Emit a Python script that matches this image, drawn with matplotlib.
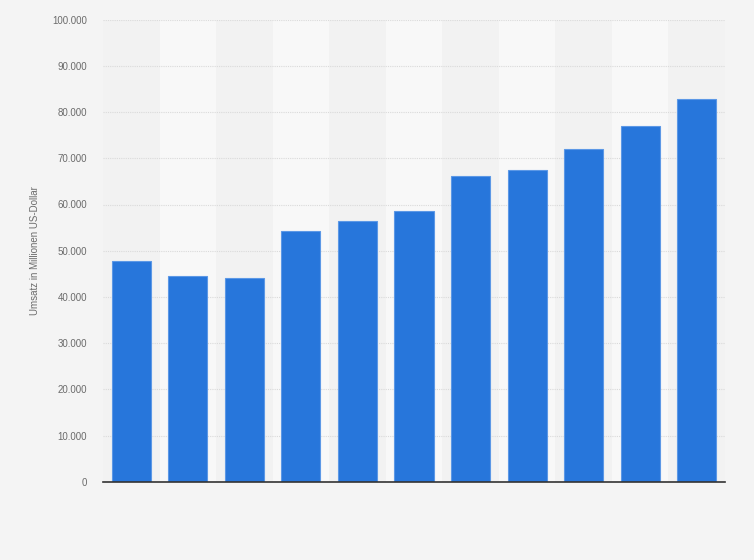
import matplotlib
matplotlib.use("Agg")
import matplotlib.pyplot as plt
from matplotlib.ticker import FuncFormatter

categories = ["1", "2", "3", "4", "5", "6", "7", "8", "9", "10", "11"]
values = [47700, 44500, 44000, 54200, 56400, 58500, 66100, 67400, 72000, 76900, 82800]
yticks = [0, 10000, 20000, 30000, 40000, 50000, 60000, 70000, 80000, 90000, 100000]
ylabel = "Umsatz in Millionen US-Dollar"

W, H = 754, 560
fig = plt.figure(figsize=(W / 100, H / 100), dpi=100, facecolor="#f4f4f4")
ax = fig.add_axes([103 / W, 1 - 481.7 / H, (725 - 103) / W, (481.7 - 19.7) / H])
ax.set_facecolor("#f4f4f4")

x = list(range(len(categories)))
for i in x:
    ax.axvspan(i - 0.5, i + 0.5, color="#f2f2f2" if i % 2 == 0 else "#f8f8f8", zorder=0, lw=0)

ax.bar(x, values, width=0.69, color="#2776db", edgecolor="#5c98e6", linewidth=0.8, zorder=3)

ax.set_xlim(-0.5, len(categories) - 0.5)
ax.set_ylim(0, 100000)
ax.set_yticks(yticks)
ax.yaxis.set_major_formatter(FuncFormatter(lambda v, p: f"{int(v):,}".replace(",", ".")))
ax.set_xticks(x)
ax.set_xticklabels([""] * len(categories))
ax.tick_params(axis="x", length=0)
ax.tick_params(axis="y", length=0, pad=11.5, labelsize=7, labelcolor="#6b6b6b")
for lbl in ax.get_yticklabels():
    lbl.set_family("Liberation Sans")

ax.grid(axis="y", linestyle=(0, (1, 1)), color="#dadada", linewidth=0.8, zorder=1)
for s in ["top", "right", "left"]:
    ax.spines[s].set_visible(False)
ax.spines["bottom"].set_color("#333333")
ax.spines["bottom"].set_linewidth(1.2)
ax.spines["bottom"].set_zorder(4)

ax.set_ylabel(ylabel, fontsize=7, color="#6b6b6b", family="Liberation Sans")
ax.yaxis.set_label_coords(-0.101, 0.5)

fig.savefig("out.png", dpi=100, facecolor=fig.get_facecolor())
